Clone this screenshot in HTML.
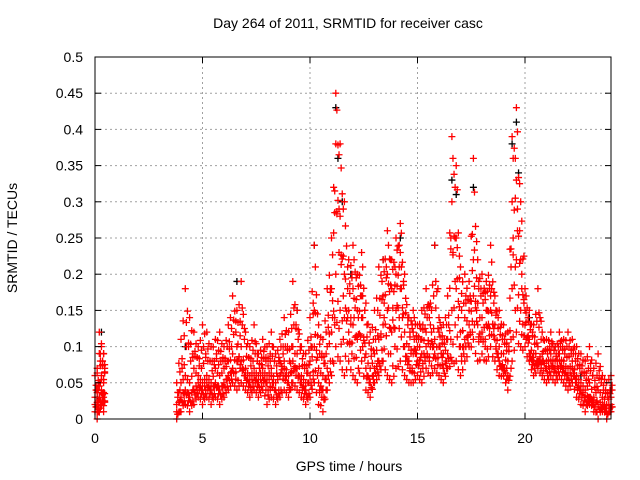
<!DOCTYPE html>
<html><head><meta charset="utf-8"><style>
body{margin:0;background:#fff}
svg{display:block;font-family:"Liberation Sans",sans-serif}
</style></head><body>
<svg id="chart" width="640" height="480" viewBox="0 0 640 480" xmlns="http://www.w3.org/2000/svg">
<text x="348" y="28" font-size="14" text-anchor="middle" fill="#000">Day 264 of 2011, SRMTID for receiver casc</text>
<text transform="translate(17,238) rotate(-90)" font-size="14" text-anchor="middle" fill="#000">SRMTID / TECUs</text>
<text x="349" y="471" font-size="14" text-anchor="middle" fill="#000">GPS time / hours</text>
<g id="grid"></g><g id="black"></g><g id="red"></g><g id="axes"></g>
</svg>
<script>
const xTicks=[0,5,10,15,20];
const yTicks=[0,0.05,0.1,0.15,0.2,0.25,0.3,0.35,0.4,0.45,0.5];
const yTickLabels=["0","0.05","0.1","0.15","0.2","0.25","0.3","0.35","0.4","0.45","0.5"];
const times=[0,0.1,0.2,0.3,0.4,3.8,4.0,4.2,4.4,4.6,4.8,5.0,5.2,5.4,5.6,5.8,6.0,6.2,6.4,6.6,6.8,7.0,7.2,7.4,7.6,7.8,8.0,8.2,8.4,8.6,8.8,9.0,9.2,9.4,9.6,9.8,10.0,10.2,10.4,10.6,10.8,11.0,11.2,11.4,11.6,11.8,12.0,12.2,12.4,12.6,12.8,13.0,13.2,13.4,13.6,13.8,14.0,14.2,14.4,14.6,14.8,15.0,15.2,15.4,15.6,15.8,16.0,16.2,16.4,16.6,16.8,17.0,17.2,17.4,17.6,17.8,18.0,18.2,18.4,18.6,18.8,19.0,19.2,19.4,19.6,19.8,20.0,20.2,20.4,20.6,20.8,21.0,21.2,21.4,21.6,21.8,22.0,22.2,22.4,22.6,22.8,23.0,23.2,23.4,23.6,23.8,24.0];
const seriesLow=[.01,0,.01,.02,.01,0,.01,.02,.01,.02,.03,.02,.03,.02,.03,.02,.03,.04,.05,.04,.05,.04,.03,.04,.03,.04,.02,.03,.02,.03,.04,.03,.05,.04,.03,.02,.03,.05,.02,.01,.04,.06,.10,.08,.06,.08,.06,.05,.08,.04,.03,.05,.06,.08,.06,.05,.07,.08,.06,.05,.05,.06,.05,.07,.06,.07,.06,.05,.07,.08,.08,.06,.08,.10,.11,.08,.09,.08,.10,.08,.06,.06,.04,.08,.12,.10,.10,.08,.06,.07,.06,.05,.06,.05,.06,.05,.04,.05,.03,.02,.01,.02,.01,0,.01,0,.01];
const seriesMid=[.03,.04,.05,.06,.05,.02,.05,.06,.05,.07,.06,.05,.06,.05,.07,.06,.07,.08,.09,.08,.10,.07,.06,.07,.06,.07,.06,.07,.05,.06,.08,.06,.10,.09,.06,.05,.08,.10,.07,.06,.10,.12,.20,.15,.14,.15,.13,.11,.14,.09,.07,.09,.11,.13,.15,.12,.15,.18,.12,.10,.09,.10,.11,.12,.10,.11,.10,.09,.11,.15,.18,.12,.14,.15,.17,.16,.14,.13,.15,.13,.10,.09,.08,.18,.22,.15,.13,.11,.09,.10,.08,.08,.09,.08,.09,.08,.07,.08,.06,.05,.04,.05,.03,.04,.03,.02,.03];
const seriesHigh=[.06,.07,.12,.10,.09,.05,.11,.18,.14,.12,.10,.13,.12,.10,.11,.12,.10,.13,.17,.15,.19,.12,.10,.13,.09,.11,.10,.12,.09,.11,.14,.12,.19,.15,.10,.09,.14,.24,.13,.11,.18,.25,.45,.38,.30,.22,.24,.20,.23,.16,.12,.15,.21,.22,.26,.22,.25,.27,.20,.14,.15,.13,.15,.18,.16,.24,.14,.13,.17,.39,.35,.21,.20,.19,.36,.22,.20,.19,.24,.17,.15,.13,.12,.39,.43,.30,.18,.15,.13,.18,.12,.11,.12,.10,.12,.11,.12,.11,.10,.09,.08,.10,.07,.09,.06,.05,.06];
const seriesExtra=[.02,.02,.03,.04,.03,.01,.03,.04,.03,.04,.05,.04,.05,.04,.05,.04,.05,.06,.07,.10,.08,.06,.05,.06,.05,.06,.05,.06,.04,.08,.07,.05,.08,.07,.05,.04,.06,.15,.05,.04,.07,.18,.38,.28,.20,.12,.18,.15,.17,.07,.05,.07,.08,.17,.20,.18,.20,.23,.10,.08,.12,.08,.09,.10,.13,.09,.12,.07,.09,.30,.25,.10,.11,.13,.22,.13,.12,.15,.17,.11,.08,.07,.06,.30,.33,.22,.15,.09,.08,.08,.09,.07,.08,.07,.08,.07,.06,.07,.05,.04,.03,.03,.02,.02,.02,.01,.02];
const blackTimes=[0.1,0.3,4.2,6.6,9.4,10.2,11.2,11.3,11.5,11.9,13.4,14.2,15.8,16.6,16.8,17.6,19.4,19.6,19.7,20.2,21.4,22.6];
const blackValues=[.03,.12,.10,.19,.15,.24,.43,.36,.30,.20,.22,.25,.24,.33,.31,.32,.38,.41,.34,.14,.10,.06];
const NS="http://www.w3.org/2000/svg";
const L=95,R=611,T=57,B=419;
const xs=t=>L+(t/24)*(R-L);
const ys=v=>B-(v/0.5)*(B-T);
function mk(tag,attrs,parent){const e=document.createElementNS(NS,tag);for(const k in attrs)e.setAttribute(k,attrs[k]);parent.appendChild(e);return e;}
const grid=document.getElementById('grid'),axes=document.getElementById('axes');
yTicks.forEach((v,i)=>{
 if(v>0&&v<0.5){const g=mk('line',{x1:L,x2:R,y1:ys(v),y2:ys(v),stroke:'#a0a0a0','stroke-dasharray':'2,3'},grid);
 
 }
 const t=mk('text',{x:L-12,y:ys(v)+5,'font-size':14,'text-anchor':'end',fill:'#000'},axes);t.textContent=yTickLabels[i];
 
 
 mk('line',{x1:L,x2:L+6,y1:ys(v),y2:ys(v),stroke:'#000'},axes);
 mk('line',{x1:R,x2:R-6,y1:ys(v),y2:ys(v),stroke:'#000'},axes);
});
xTicks.forEach(v=>{
 if(v>0){const g=mk('line',{x1:xs(v),x2:xs(v),y1:T,y2:B,stroke:'#a0a0a0','stroke-dasharray':'2,3'},grid);
 
 }
 const t=mk('text',{x:xs(v),y:B+24,'font-size':14,'text-anchor':'middle',fill:'#000'},axes);t.textContent=String(v);
 
 
 mk('line',{x1:xs(v),x2:xs(v),y1:B,y2:B-6,stroke:'#000'},axes);
 mk('line',{x1:xs(v),x2:xs(v),y1:T,y2:T+6,stroke:'#000'},axes);
});
const frame=mk('rect',{x:L,y:T,width:R-L,height:B-T,fill:'none',stroke:'#000'},axes);


function plus(g,t,v,color){
 const x=xs(t),y=ys(v);
 const p=mk('path',{d:`M${x-3.5},${y}H${x+3.5}M${x},${y-3.5}V${y+3.5}`,stroke:color,'stroke-width':1.3,fill:'none'},g);
 
 
}
const bg=document.getElementById('black');
blackTimes.forEach((t,i)=>plus(bg,t,blackValues[i],'#000'));
const rg=document.getElementById('red');
const all=[seriesLow,seriesMid,seriesHigh,seriesExtra];
all.forEach((s,k)=>{
 const o=all[(k+1)%4];
 times.forEach((t,i)=>{
  plus(rg,t,s[i],'#ff0000');
  plus(rg,t+0.05,(s[i]*2+o[i])/3,'#ff0000');
  if(i<times.length-1&&times[i+1]-t<0.5){
   plus(rg,t+0.1,(s[i]+s[i+1])/2*0.9+0.005,'#ff0000');
   plus(rg,t+0.15,(s[i]+o[i+1])/2,'#ff0000');
  }
 });
});
</script>
</body></html>
